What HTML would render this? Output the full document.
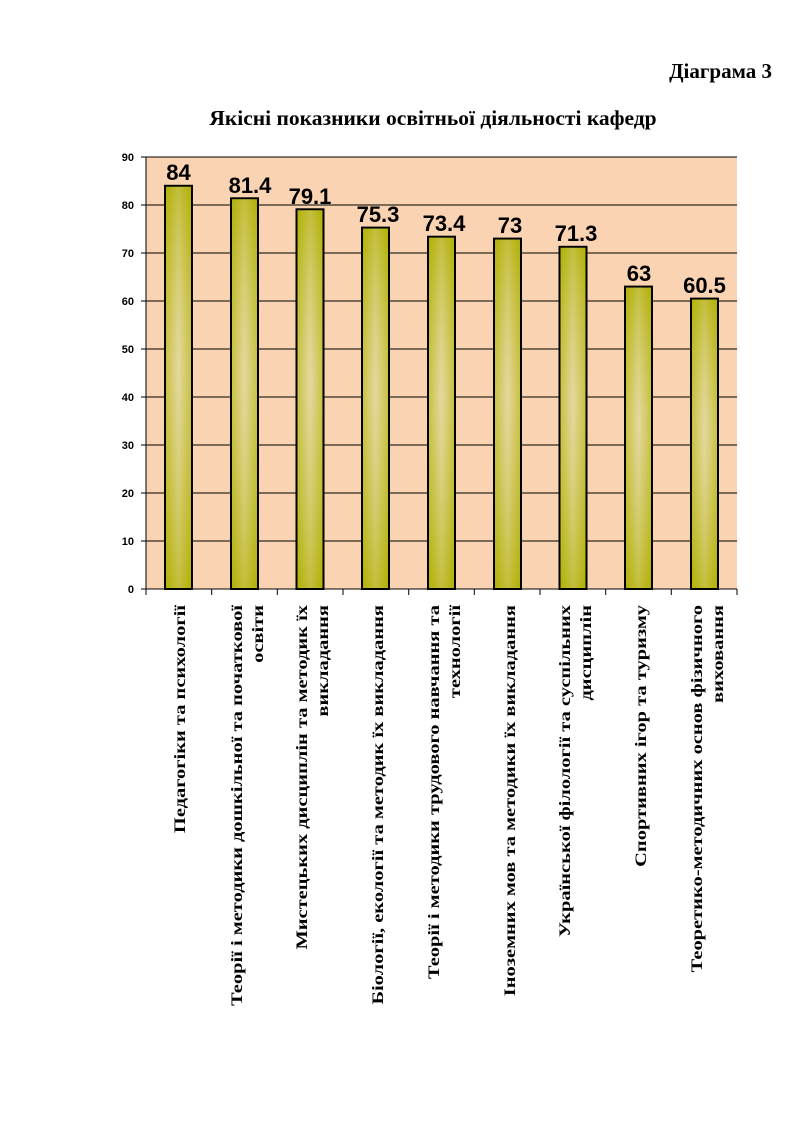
<!DOCTYPE html>
<html><head><meta charset="utf-8"><style>
body{margin:0;background:#fff;width:800px;height:1131px;overflow:hidden}
</style></head><body>
<svg width="800" height="1131" xmlns="http://www.w3.org/2000/svg">
<defs>
<linearGradient id="g" x1="0" x2="1" y1="0" y2="0">
<stop offset="0" stop-color="#b0b000"/>
<stop offset="0.5" stop-color="#e0d49a"/>
<stop offset="1" stop-color="#b0b000"/>
</linearGradient>
<linearGradient id="v" x1="0" x2="0" y1="0" y2="1">
<stop offset="0" stop-color="#b0b000" stop-opacity="0.6"/>
<stop offset="0.45" stop-color="#f0e0b0" stop-opacity="0.35"/>
<stop offset="1" stop-color="#b0b000" stop-opacity="0.6"/>
</linearGradient>
</defs>
<text x="772" y="78" text-anchor="end" font-family="Liberation Serif, serif" font-weight="bold" font-size="21">Діаграма 3</text>
<text x="433" y="125" text-anchor="middle" font-family="Liberation Serif, serif" font-weight="bold" font-size="21.5">Якісні показники освітньої діяльності кафедр</text>
<rect x="146" y="157" width="591" height="432" fill="#f9d3b2"/>
<g stroke="#000" stroke-width="1">
<line x1="146" x2="737" y1="157" y2="157"/><line x1="146" x2="737" y1="205" y2="205"/>
<line x1="146" x2="737" y1="253" y2="253"/><line x1="146" x2="737" y1="301" y2="301"/>
<line x1="146" x2="737" y1="349" y2="349"/><line x1="146" x2="737" y1="397" y2="397"/>
<line x1="146" x2="737" y1="445" y2="445"/><line x1="146" x2="737" y1="493" y2="493"/>
<line x1="146" x2="737" y1="541" y2="541"/><line x1="146" x2="737" y1="589" y2="589"/>
<line x1="146" x2="146" y1="157" y2="589"/>
<line x1="141" x2="146" y1="157" y2="157"/><line x1="141" x2="146" y1="205" y2="205"/>
<line x1="141" x2="146" y1="253" y2="253"/><line x1="141" x2="146" y1="301" y2="301"/>
<line x1="141" x2="146" y1="349" y2="349"/><line x1="141" x2="146" y1="397" y2="397"/>
<line x1="141" x2="146" y1="445" y2="445"/><line x1="141" x2="146" y1="493" y2="493"/>
<line x1="141" x2="146" y1="541" y2="541"/><line x1="141" x2="146" y1="589" y2="589"/>
<line x1="146" x2="146" y1="589" y2="595"/><line x1="211.7" x2="211.7" y1="589" y2="595"/>
<line x1="277.3" x2="277.3" y1="589" y2="595"/><line x1="343" x2="343" y1="589" y2="595"/>
<line x1="408.7" x2="408.7" y1="589" y2="595"/><line x1="474.3" x2="474.3" y1="589" y2="595"/>
<line x1="540" x2="540" y1="589" y2="595"/><line x1="605.7" x2="605.7" y1="589" y2="595"/>
<line x1="671.3" x2="671.3" y1="589" y2="595"/><line x1="737" x2="737" y1="589" y2="595"/>
</g>
<g font-family="Liberation Sans, sans-serif" font-weight="bold" font-size="11" text-anchor="end">
<text x="134" y="161">90</text><text x="134" y="209">80</text><text x="134" y="257">70</text>
<text x="134" y="305">60</text><text x="134" y="353">50</text><text x="134" y="401">40</text>
<text x="134" y="449">30</text><text x="134" y="497">20</text><text x="134" y="545">10</text>
<text x="134" y="593">0</text>
</g>
<g fill="url(#g)" stroke="#000" stroke-width="2">
<rect x="165" y="185.8" width="27" height="403.2"/>
<rect x="231" y="198.3" width="27" height="390.7"/>
<rect x="296.5" y="209.3" width="27" height="379.7"/>
<rect x="362" y="227.6" width="27" height="361.4"/>
<rect x="428" y="236.7" width="27" height="352.3"/>
<rect x="494" y="238.6" width="27" height="350.4"/>
<rect x="559.5" y="246.8" width="27" height="342.2"/>
<rect x="625" y="286.6" width="27" height="302.4"/>
<rect x="691" y="298.6" width="27" height="290.4"/>
</g>
<g fill="url(#v)">
<rect x="166" y="186.8" width="25" height="401.2"/>
<rect x="232" y="199.3" width="25" height="388.7"/>
<rect x="297.5" y="210.3" width="25" height="377.7"/>
<rect x="363" y="228.6" width="25" height="359.4"/>
<rect x="429" y="237.7" width="25" height="350.3"/>
<rect x="495" y="239.6" width="25" height="348.4"/>
<rect x="560.5" y="247.8" width="25" height="340.2"/>
<rect x="626" y="287.6" width="25" height="300.4"/>
<rect x="692" y="299.6" width="25" height="288.4"/>
</g>
<g font-family="Liberation Sans, sans-serif" font-weight="bold" font-size="22" text-anchor="middle">
<text x="178.5" y="180">84</text><text x="250" y="193">81.4</text><text x="310" y="204">79.1</text>
<text x="378" y="222">75.3</text><text x="444" y="231">73.4</text><text x="510" y="233">73</text>
<text x="576" y="241">71.3</text><text x="639" y="281">63</text><text x="704.5" y="293">60.5</text>
</g>
<g font-family="Liberation Serif, serif" font-weight="bold" font-size="16" text-anchor="end">
<text transform="translate(185,605) rotate(-90) scale(1.28,1)">Педагогіки та психології</text>
<text transform="translate(242,605) rotate(-90) scale(1.28,1)">Теорії і методики дошкільної та початкової</text>
<text transform="translate(263,605) rotate(-90) scale(1.28,1)">освіти</text>
<text transform="translate(307,605) rotate(-90) scale(1.28,1)">Мистецьких дисциплін та методик їх</text>
<text transform="translate(328,605) rotate(-90) scale(1.28,1)">викладання</text>
<text transform="translate(383,605) rotate(-90) scale(1.28,1)">Біології, екології та методик їх викладання</text>
<text transform="translate(439,605) rotate(-90) scale(1.28,1)">Теорії і методики трудового навчання та</text>
<text transform="translate(460,605) rotate(-90) scale(1.28,1)">технології</text>
<text transform="translate(515,605) rotate(-90) scale(1.28,1)">Іноземних мов та методики їх викладання</text>
<text transform="translate(570,605) rotate(-90) scale(1.28,1)">Української філології та суспільних</text>
<text transform="translate(591,605) rotate(-90) scale(1.28,1)">дисциплін</text>
<text transform="translate(646,605) rotate(-90) scale(1.28,1)">Спортивних ігор та туризму</text>
<text transform="translate(702,605) rotate(-90) scale(1.28,1)">Теоретико-методичних основ фізичного</text>
<text transform="translate(723,605) rotate(-90) scale(1.28,1)">виховання</text>
</g>
</svg>
</body></html>
